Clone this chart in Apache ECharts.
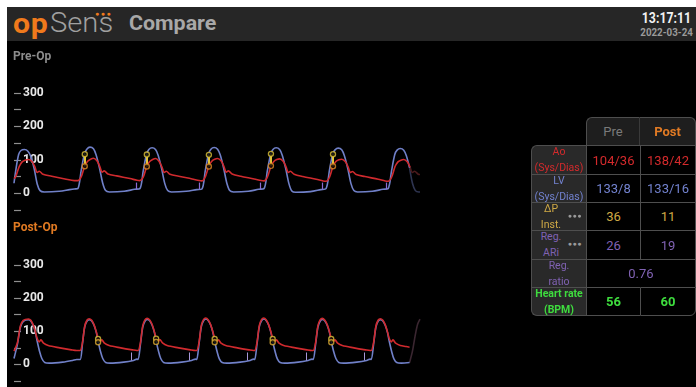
<!DOCTYPE html>
<html>
<head>
<meta charset="utf-8">
<script src="https://cdn.jsdelivr.net/npm/echarts@6/dist/echarts.min.js"></script>
<style>
  html, body { margin: 0; padding: 0; background: #fff; }
  body { width: 696px; height: 387px; position: relative; overflow: hidden; font-family: Roboto, "Noto Sans", sans-serif; }
  #screen { position: absolute; left: 7px; top: 7px; width: 689px; height: 380px; background: #000; }
  #topbar { position: absolute; left: 7px; top: 7px; width: 689px; height: 34px; background: #262626; }
  #chart { position: absolute; left: 0; top: 0; width: 696px; height: 387px; }
  .logo-op { position: absolute; left: 13px; top: 8px; font-size: 27px; font-weight: bold; color: #f07a1c; letter-spacing: 0.5px; transform: scaleX(1.12); transform-origin: left; }
  .logo-sens { position: absolute; left: 50px; top: 7px; font-size: 27px; font-weight: 300; color: #a0a0a0; transform: scaleX(1.08); transform-origin: left; }
  .logo-dots { position: absolute; left: 95px; top: 10px; font-size: 7px; color: #f07a1c; letter-spacing: 1.5px; }
  .page-title { position: absolute; left: 129px; top: 11px; font-size: 20px; font-weight: bold; color: #a8a8a8; transform: scaleX(1.07); transform-origin: left; }
  .clock { position: absolute; right: 5px; top: 11px; font-size: 15px; font-weight: bold; color: #f2f2f2; transform: scaleX(0.82); transform-origin: right; line-height: 15px; }
  .date { position: absolute; right: 3px; top: 26px; font-size: 11.5px; font-weight: bold; color: #9a9a9a; transform: scaleX(0.85); transform-origin: right; line-height: 12px; }
  #table { position: absolute; left: 0; top: 0; z-index: 3; }
  .cell { position: absolute; box-sizing: border-box; display: flex; align-items: center; justify-content: center; text-align: center; }
  .lab { flex-direction: column; font-size: 10.5px; line-height: 16px; }
  .val { font-size: 13px; }
  .dots { position: absolute; right: 4px; top: 50%; transform: translateY(-55%); font-size: 7px; color: #9a9a9a; letter-spacing: 0.5px; }
</style>
</head>
<body>
<div id="screen"></div>
<div id="topbar">
</div>
<div class="logo-op">op</div>
<div class="logo-sens">Sens</div>
<div class="logo-dots">●●●</div>
<div class="page-title">Compare</div>
<div class="clock">13:17:11</div>
<div class="date">2022-03-24</div>
<div id="chart"></div>
<div id="table"></div>
<script>
// ---- waveform data: [time (s), pressure (mmHg)] ----
const preLV = [
  [0.00,30],[0.03,68],[0.08,116],[0.12,128],[0.18,131],[0.24,126],[0.29,110],[0.35,72],[0.40,28],[0.45,8],[0.52,4],[0.78,6],[0.96,11],[1.04,13],
  [1.10,14],[1.16,70],[1.215,118],[1.255,132],[1.31,138],[1.37,133],[1.415,115],[1.475,75],[1.53,30],[1.58,8],[1.645,4],[1.90,6],[2.08,12],
  [2.17,14],[2.23,69],[2.285,117],[2.325,131],[2.38,136],[2.44,131],[2.485,114],[2.545,74],[2.60,29],[2.65,8],[2.715,4],[2.97,6],[3.15,11],
  [3.24,13],[3.30,70],[3.355,118],[3.395,132],[3.45,137],[3.51,132],[3.555,115],[3.615,75],[3.67,30],[3.72,8],[3.785,4],[4.04,6],[4.22,12],
  [4.31,14],[4.37,69],[4.425,117],[4.465,131],[4.52,136],[4.58,131],[4.625,114],[4.685,74],[4.74,29],[4.79,7],[4.855,3],[5.11,5],[5.29,11],
  [5.38,14],[5.44,70],[5.495,118],[5.535,130],[5.59,135],[5.65,130],[5.695,113],[5.755,74],[5.81,29],[5.86,8],[5.925,4],[6.18,6],[6.36,12],
  [6.45,14],[6.51,68],[6.565,116],[6.605,129],[6.66,134],[6.72,129],[6.765,112],[6.82,76]
];
const preAo = [
  [0.00,44],[0.03,50],[0.09,80],[0.14,94],[0.19,99],[0.25,101],[0.31,95],[0.36,79],[0.40,62],[0.435,66],[0.50,57],[0.65,51],[0.88,43],[1.04,38],
  [1.10,38],[1.16,50],[1.22,82],[1.27,96],[1.32,102],[1.37,105],[1.43,97],[1.48,80],[1.52,63],[1.555,67],[1.62,58],[1.77,52],[2.00,44],[2.12,39],
  [2.17,38],[2.23,49],[2.29,81],[2.34,95],[2.39,101],[2.44,104],[2.50,96],[2.55,79],[2.59,62],[2.625,66],[2.69,57],[2.84,51],[3.07,43],[3.19,38],
  [3.24,37],[3.30,50],[3.36,82],[3.41,96],[3.46,102],[3.51,104],[3.57,97],[3.62,80],[3.66,63],[3.695,67],[3.76,58],[3.91,51],[4.14,43],[4.26,38],
  [4.31,37],[4.37,49],[4.43,81],[4.48,95],[4.53,101],[4.58,103],[4.64,96],[4.69,79],[4.73,62],[4.765,66],[4.83,57],[4.98,50],[5.21,42],[5.33,37],
  [5.38,36],[5.44,48],[5.50,81],[5.55,95],[5.60,100],[5.65,102],[5.71,95],[5.76,79],[5.80,62],[5.835,65],[5.90,56],[6.05,50],[6.28,42],[6.40,37],
  [6.45,36],[6.51,48],[6.57,80],[6.62,94],[6.67,99],[6.72,101],[6.78,94],[6.83,78]
];
const preLVFade = [[6.82,76],[6.87,30],[6.92,8],[6.98,4],[7.00,4]];
const preAoFade = [[6.83,78],[6.87,62],[6.905,66],[6.97,57],[7.00,56]];

const postLV = [
  [0.00,18],[0.06,62],[0.11,112],[0.16,130],[0.25,135],[0.29,131],[0.33,118],[0.37,96],[0.40,70],[0.44,40],[0.48,18],[0.53,6],[0.61,4],[0.84,7],[1.01,12],[1.08,15],
  [1.14,15],[1.18,62],[1.22,114],[1.26,131],[1.30,135],[1.34,131],[1.38,118],[1.42,96],[1.45,70],[1.49,40],[1.53,18],[1.58,6],[1.66,4],[1.89,7],[2.06,12],[2.12,16],
  [2.14,15],[2.18,61],[2.22,113],[2.26,131],[2.30,136],[2.34,132],[2.38,119],[2.42,97],[2.45,71],[2.49,41],[2.53,18],[2.58,6],[2.66,4],[2.89,7],[3.06,12],[3.13,16],
  [3.15,15],[3.19,62],[3.23,114],[3.27,132],[3.31,137],[3.35,132],[3.39,119],[3.43,96],[3.46,70],[3.50,40],[3.54,17],[3.59,6],[3.67,4],[3.90,7],[4.07,12],[4.13,16],
  [4.15,15],[4.19,62],[4.23,114],[4.27,132],[4.31,137],[4.35,132],[4.39,119],[4.43,96],[4.46,70],[4.50,40],[4.54,17],[4.59,6],[4.67,4],[4.90,7],[5.07,12],[5.14,16],
  [5.16,15],[5.20,61],[5.24,113],[5.28,131],[5.32,136],[5.36,131],[5.40,118],[5.44,96],[5.47,70],[5.51,40],[5.55,18],[5.60,6],[5.68,4],[5.91,7],[6.08,12],[6.14,16],
  [6.16,15],[6.20,61],[6.24,113],[6.28,131],[6.32,135],[6.36,131],[6.40,118],[6.44,96],[6.47,70],[6.51,40],[6.55,17],[6.60,6],[6.68,4],[6.82,6]
];
const postAo = [
  [0.00,40],[0.06,66],[0.11,116],[0.16,133],[0.25,137],[0.29,133],[0.33,120],[0.37,98],[0.40,78],[0.435,68],[0.465,74],[0.51,64],[0.59,57],[0.79,50],[0.99,44],[1.08,42],
  [1.14,42],[1.18,66],[1.22,116],[1.26,134],[1.295,138],[1.34,133],[1.38,120],[1.42,98],[1.45,78],[1.485,68],[1.515,74],[1.56,64],[1.64,57],[1.84,50],[2.04,44],[2.12,42],
  [2.14,42],[2.18,66],[2.22,117],[2.26,135],[2.295,139],[2.34,134],[2.38,121],[2.42,99],[2.45,79],[2.485,69],[2.515,75],[2.56,65],[2.64,57],[2.84,50],[3.04,44],[3.13,42],
  [3.15,42],[3.19,67],[3.23,118],[3.27,136],[3.305,140],[3.35,134],[3.39,120],[3.43,98],[3.46,78],[3.495,68],[3.525,74],[3.57,64],[3.65,57],[3.85,50],[4.05,44],[4.13,42],
  [4.15,42],[4.19,67],[4.23,118],[4.27,136],[4.305,140],[4.35,134],[4.39,120],[4.43,98],[4.46,78],[4.495,68],[4.525,74],[4.57,64],[4.65,57],[4.85,50],[5.05,44],[5.14,42],
  [5.16,42],[5.20,66],[5.24,117],[5.28,135],[5.315,139],[5.36,133],[5.40,120],[5.44,98],[5.47,78],[5.505,68],[5.535,74],[5.58,64],[5.66,57],[5.86,50],[6.06,44],[6.14,42],
  [6.16,42],[6.20,66],[6.24,116],[6.28,134],[6.315,138],[6.36,133],[6.40,120],[6.44,98],[6.47,78],[6.505,68],[6.535,74],[6.58,64],[6.66,57],[6.76,54],[6.82,52]
];
const postFade = [[6.82,6],[6.87,40],[6.92,90],[6.96,122],[7.00,137]];

// ΔP markers and end-diastolic ticks
const preMarkT = [1.22, 2.29, 3.36, 4.43, 5.50];
const preMarkLV = [117, 116, 115, 118, 117];
const preMarkAo = [81, 80, 80, 82, 81];
const postMarkT = [1.45, 2.45, 3.46, 4.46, 5.47];
const postMarkHi = [77, 78, 77, 77, 77];
const postMarkLo = [67, 68, 67, 67, 67];
const preEdpT = [2.115, 3.195, 4.25, 5.32, 6.41];
const postEdpT = [2.02, 3.03, 4.03, 5.04, 6.04];
const edpRange = [12, 32];

const yTicks = [-50, 0, 50, 100, 150, 200, 250, 300];

// ---- table data ----
const rowLabels = [['Ao', '(Sys/Dias)'], ['LV', '(Sys/Dias)'], ['ΔP', 'Inst.'], ['Reg.', 'ARi'], ['Reg.', 'ratio'], ['Heart rate', '(BPM)']];
const preValues = ['104/36', '133/8', '36', '26', '0.76', '56'];
const postValues = ['138/42', '133/16', '11', '19', null, '60'];
const rowColors = ['#d42a2c', '#7282cf', '#cfa945', '#8062b3', '#8062b3', '#3edc3e'];
const rowDots = [false, false, true, true, false, false];

const LV_COLOR = '#7080c8';
const AO_COLOR = '#d02a2e';

function yAxisFor(gridIndex) {
  return {
    type: 'value', gridIndex, min: yTicks[0], max: yTicks[yTicks.length - 1], interval: 50,
    axisLine: { show: false },
    axisTick: { show: true, inside: true, length: 7, lineStyle: { color: '#8f8f8f', width: 1.2 } },
    axisLabel: {
      inside: true, margin: 9, color: '#e8e8e8', fontSize: 12, fontWeight: 'bold', fontFamily: 'Roboto',
      formatter: v => (v >= 0 && v % 100 === 0) ? String(v) : ''
    },
    splitLine: { show: false }
  }
}

function wave(data, color, xi, extra) {
  return Object.assign({
    type: 'line', xAxisIndex: xi, yAxisIndex: xi, data, smooth: 0.3, showSymbol: false,
    lineStyle: { color, width: 1.6 }, silent: true
  }, extra || {})
}

const chart = echarts.init(document.getElementById('chart'), null, { renderer: 'canvas' });

const option = {
  backgroundColor: 'transparent',
  animation: false,
  title: [
    { text: 'Pre-Op', left: 13, top: 51, padding: 0, textStyle: { color: '#8c8c8c', fontSize: 12, fontWeight: 'bold', fontFamily: 'Roboto' } },
    { text: 'Post-Op', left: 13, top: 222, padding: 0, textStyle: { color: '#e07a22', fontSize: 12, fontWeight: 'bold', fontFamily: 'Roboto' } }
  ],
  grid: [
    { left: 14, right: 276, top: 93, bottom: 177 },
    { left: 14, right: 276, top: 265, bottom: 6 }
  ],
  xAxis: [
    { type: 'value', gridIndex: 0, min: 0, max: 7, show: false },
    { type: 'value', gridIndex: 1, min: 0, max: 7, show: false }
  ],
  yAxis: [yAxisFor(0), yAxisFor(1)],
  series: [
    // Pre-Op
    wave(preLVFade, '#2e3450', 0),
    wave(preAoFade, '#4a1a1c', 0),
    wave(preLV, LV_COLOR, 0, {
      markLine: {
        silent: true, symbol: 'none', label: { show: false },
        lineStyle: { color: '#8c6cd4', width: 1.2, type: 'solid' },
        data: preEdpT.map(t => [{ coord: [t, edpRange[0]] }, { coord: [t, edpRange[1]] }])
      }
    }),
    wave(preAo, AO_COLOR, 0, {
      markLine: {
        silent: true, symbol: 'none', label: { show: false },
        lineStyle: { color: '#e2c43c', width: 2, type: 'solid' },
        data: preMarkT.map((t, i) => [{ coord: [t, preMarkLV[i]] }, { coord: [t, preMarkAo[i]] }])
      }
    }),
    {
      type: 'scatter', xAxisIndex: 0, yAxisIndex: 0, symbolSize: 5, silent: true, z: 5,
      itemStyle: { color: '#000', borderColor: '#dcc23a', borderWidth: 1.4 },
      data: preMarkT.map((t, i) => [t, preMarkLV[i]])
    },
    {
      type: 'scatter', xAxisIndex: 0, yAxisIndex: 0, symbolSize: 5, silent: true, z: 5,
      itemStyle: { color: '#000', borderColor: '#e08a26', borderWidth: 1.4 },
      data: preMarkT.map((t, i) => [t, preMarkAo[i]])
    },
    // Post-Op
    wave(postFade, '#3a2630', 1),
    wave(postLV, LV_COLOR, 1, {
      markLine: {
        silent: true, symbol: 'none', label: { show: false },
        lineStyle: { color: '#a898d8', width: 1, type: 'solid' },
        data: postEdpT.map(t => [{ coord: [t, edpRange[0]] }, { coord: [t, edpRange[1] + 4] }])
      }
    }),
    wave(postAo, AO_COLOR, 1),
    {
      type: 'scatter', xAxisIndex: 1, yAxisIndex: 1, symbolSize: 5, silent: true, z: 5,
      itemStyle: { color: '#000', borderColor: '#dcc23a', borderWidth: 1.4 },
      data: postMarkT.map((t, i) => [t, postMarkHi[i]])
    },
    {
      type: 'scatter', xAxisIndex: 1, yAxisIndex: 1, symbolSize: 5, silent: true, z: 5,
      itemStyle: { color: '#000', borderColor: '#d8a832', borderWidth: 1.4 },
      data: postMarkT.map((t, i) => [t, postMarkLo[i]])
    }
  ]
};
chart.setOption(option);

// ---- comparison table ----
const table = document.getElementById('table');
const colX = [531, 586, 640, 696];
const headTop = 117, bodyTop = 145;
const rowH = [29, 28, 28, 29, 28, 29];
const border = '#4e4e4e';

function addCell(x, y, w, h, html, style) {
  const d = document.createElement('div');
  d.className = 'cell';
  d.style.left = x + 'px'; d.style.top = y + 'px';
  d.style.width = w + 'px'; d.style.height = h + 'px';
  Object.assign(d.style, style || {});
  d.innerHTML = html;
  table.appendChild(d);
  return d;
}

// header row
addCell(colX[1], headTop, colX[2] - colX[1], bodyTop - headTop, 'Pre',
  { background: '#1e1e1e', color: '#7a7a7a', fontSize: '13px', borderTop: '1px solid ' + border, borderLeft: '1px solid ' + border, borderRight: '1px solid #3a3a3a', borderTopLeftRadius: '6px' });
addCell(colX[2], headTop, colX[3] - colX[2], bodyTop - headTop, 'Post',
  { background: '#1e1e1e', color: '#e07a24', fontSize: '13px', fontWeight: 'bold', borderTop: '1px solid ' + border, borderRight: '1px solid ' + border, borderTopRightRadius: '6px' });

let y = bodyTop;
rowLabels.forEach((lab, i) => {
  const h = rowH[i];
  const last = i === rowLabels.length - 1;
  const c = rowColors[i];
  const bold = last ? 'bold' : 'normal';
  const lc = addCell(colX[0], y, colX[1] - colX[0], h,
    `<span>${lab[0]}</span><span>${lab[1]}</span>`,
    { background: '#292929', color: c, fontWeight: bold, borderLeft: '1px solid ' + border, borderTop: '1px solid ' + border,
      borderBottom: last ? '1px solid ' + border : 'none',
      borderTopLeftRadius: i === 0 ? '6px' : '0', borderBottomLeftRadius: last ? '6px' : '0',
      paddingRight: rowDots[i] ? '16px' : '0' });
  lc.classList.add('lab');
  if (rowDots[i]) {
    const dd = document.createElement('span');
    dd.className = 'dots'; dd.textContent = '●●●';
    lc.appendChild(dd);
  }
  const vstyle = { background: '#000', color: c, fontWeight: last ? 'bold' : 'normal',
    borderLeft: '1px solid ' + border, borderTop: '1px solid ' + border,
    borderBottom: last ? '1px solid ' + border : 'none' };
  if (postValues[i] === null) {
    addCell(colX[1], y, colX[3] - colX[1], h, preValues[i], Object.assign({}, vstyle, { borderRight: '1px solid ' + border })).classList.add('val');
  } else {
    addCell(colX[1], y, colX[2] - colX[1], h, preValues[i], vstyle).classList.add('val');
    addCell(colX[2], y, colX[3] - colX[2], h, postValues[i], Object.assign({}, vstyle, { borderRight: '1px solid ' + border,
      borderBottomRightRadius: last ? '6px' : '0' })).classList.add('val');
  }
  y += h;
});
</script>
</body>
</html>
